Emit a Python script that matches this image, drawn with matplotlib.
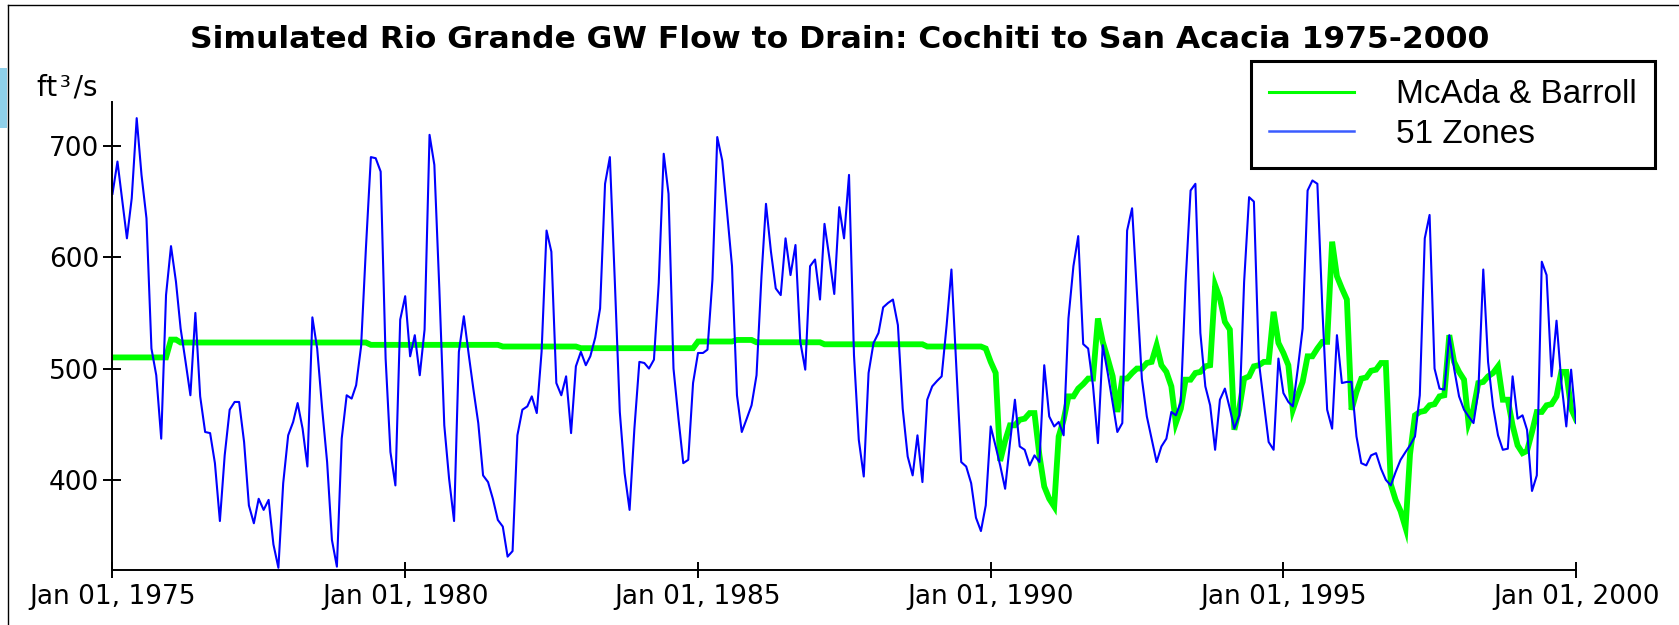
import pandas as pd
import matplotlib
matplotlib.use('Agg')
from matplotlib import pyplot as plt
from matplotlib import dates as mdates
from matplotlib.lines import Line2D
from matplotlib.patches import Rectangle

# Monthly values, Jan 1975 .. Jan 2000 (ft3/s), one row per year
zones_51 = [
    657, 686, 653, 617, 653, 725, 674, 635, 518, 494, 437, 566,   # 1975
    610, 578, 536, 506, 476, 550, 475, 443, 442, 415, 363, 422,   # 1976
    463, 470, 470, 434, 377, 361, 383, 373, 382, 342, 321, 397,   # 1977
    440, 452, 469, 446, 412, 546, 518, 464, 416, 346, 322, 437,   # 1978
    476, 473, 485, 520, 608, 690, 689, 677, 509, 425, 395, 544,   # 1979
    565, 511, 530, 494, 535, 710, 683, 572, 449, 401, 363, 515,   # 1980
    547, 512, 482, 451, 404, 398, 383, 364, 358, 331, 336, 440,   # 1981
    463, 466, 475, 460, 515, 624, 605, 487, 476, 493, 442, 502,   # 1982
    515, 503, 511, 528, 554, 666, 690, 578, 461, 406, 373, 446,   # 1983
    506, 505, 500, 508, 577, 693, 657, 500, 455, 415, 418, 487,   # 1984
    514, 514, 517, 580, 708, 687, 641, 592, 476, 443, 455, 467,   # 1985
    494, 583, 648, 605, 572, 566, 617, 584, 611, 524, 499, 592,   # 1986
    598, 562, 630, 599, 567, 645, 617, 674, 512, 436, 403, 496,   # 1987
    523, 532, 555, 559, 562, 539, 464, 421, 404, 440, 398, 472,   # 1988
    484, 489, 493, 539, 589, 500, 416, 412, 397, 366, 354, 377,   # 1989
    448, 430, 413, 392, 433, 472, 430, 427, 413, 422, 416, 503,   # 1990
    457, 448, 452, 440, 545, 592, 619, 522, 518, 485, 433, 521,   # 1991
    496, 469, 443, 451, 624, 644, 569, 491, 457, 437, 416, 430,   # 1992
    437, 461, 458, 470, 578, 660, 666, 532, 484, 467, 427, 472,   # 1993
    482, 464, 446, 458, 578, 654, 650, 506, 469, 434, 427, 509,   # 1994
    478, 470, 466, 500, 536, 660, 669, 666, 554, 463, 446, 530,   # 1995
    487, 488, 488, 439, 415, 413, 422, 424, 410, 400, 395, 407,   # 1996
    418, 425, 431, 439, 476, 617, 638, 500, 482, 481, 530, 500,   # 1997
    475, 463, 457, 451, 479, 589, 506, 466, 440, 427, 428, 493,   # 1998
    455, 458, 445, 390, 404, 596, 584, 493, 543, 488, 448, 499,   # 1999
    451,                                                          # 2000
]

mcada_barroll = [
    510, 510, 510, 510, 510, 510, 510, 510, 510, 510, 510, 510,   # 1975
    526, 526, 523.4, 523.4, 523.4, 523.4, 523.4, 523.4, 523.4, 523.4, 523.4, 523.4,
    523.4, 523.4, 523.4, 523.4, 523.4, 523.4, 523.4, 523.4, 523.4, 523.4, 523.4, 523.4,
    523.4, 523.4, 523.4, 523.4, 523.4, 523.4, 523.4, 523.4, 523.4, 523.4, 523.4, 523.4,
    523.4, 523.4, 523.4, 523.4, 523.4, 521.3, 521.3, 521.3, 521.3, 521.3, 521.3, 521.3,
    521.3, 521.3, 521.3, 521.3, 521.3, 521.3, 521.3, 521.3, 521.3, 521.3, 521.3, 521.3,
    521.3, 521.3, 521.3, 521.3, 521.3, 521.3, 521.3, 521.3, 519.8, 519.8, 519.8, 519.8,
    519.8, 519.8, 519.8, 519.8, 519.8, 519.8, 519.8, 519.8, 519.8, 519.8, 519.8, 519.8,
    518.3, 518.3, 518.3, 518.3, 518.3, 518.3, 518.3, 518.3, 518.3, 518.3, 518.3, 518.3,
    518.3, 518.3, 518.3, 518.3, 518.3, 518.3, 518.3, 518.3, 518.3, 518.3, 518.3, 518.3,
    524.3, 524.3, 524.3, 524.3, 524.3, 524.3, 524.3, 524.3, 525.7, 525.7, 525.7, 525.7,
    523.6, 523.6, 523.6, 523.6, 523.6, 523.6, 523.6, 523.6, 523.6, 523.6, 523.6, 523.6,
    523.6, 523.6, 521.8, 521.8, 521.8, 521.8, 521.8, 521.8, 521.8, 521.8, 521.8, 521.8,
    521.8, 521.8, 521.8, 521.8, 521.8, 521.8, 521.8, 521.8, 521.8, 521.8, 521.8, 519.8,
    519.8, 519.8, 519.8, 519.8, 519.8, 519.8, 519.8, 519.8, 519.8, 519.8, 519.8, 518,
    506, 496, 417, 435, 449, 449, 454, 455, 460, 460, 422, 394,   # 1990
    383, 376, 439, 454, 475, 475, 482, 486, 491, 491, 545, 524,   # 1991
    509, 493, 461, 491, 491, 496, 500, 500, 505, 506, 521, 503,   # 1992
    497, 484, 451, 464, 490, 490, 496, 497, 502, 503, 575, 563,   # 1993
    542, 535, 445, 464, 491, 493, 502, 503, 506, 506, 551, 523,   # 1994
    514, 503, 463, 476, 488, 511, 511, 518, 524, 524, 614, 583,   # 1995
    572, 562, 463, 479, 491, 492, 498, 499, 505, 505, 396, 382,   # 1996
    372, 357, 423, 458, 461, 462, 467, 468, 475, 476, 530, 506,   # 1997
    497, 490, 451, 464, 487, 488, 493, 496, 502, 472, 472, 449,   # 1998
    431, 424, 426, 443, 461, 461, 467, 468, 475, 497, 497, 464,   # 1999
    454,                                                          # 2000
]

months = pd.date_range('1975-01-01', periods=len(zones_51), freq='MS')
tick_years = [1975, 1980, 1985, 1990, 1995, 2000]
y_ticks = [400, 500, 600, 700]

fig = plt.figure(figsize=(16.79, 6.25), dpi=100)
ax = fig.add_axes([0.067, 0.088, 0.8717, 0.7488])

ax.plot(months, mcada_barroll, color='#00ff00', lw=4.2, solid_joinstyle='miter')
ax.plot(months, zones_51, color='#0000ff', lw=1.5)

ax.set_xlim(months[0], months[-1])
ax.set_ylim(319, 739.5)

ax.set_xticks([pd.Timestamp(f'{y}-01-01') for y in tick_years])
ax.xaxis.set_major_formatter(mdates.DateFormatter('%b %d, %Y'))
ax.set_yticks(y_ticks)

for s in ['top', 'right']:
    ax.spines[s].set_visible(False)
for s in ['left', 'bottom']:
    ax.spines[s].set_linewidth(1.4)
ax.tick_params(axis='both', direction='inout', width=1.4, labelsize=19, colors='black')
ax.tick_params(axis='y', length=13, pad=3)
ax.tick_params(axis='x', length=11.5, pad=4)

fig.text(37 / 1679, 1 - 88 / 625, 'ft\u200a\u00b3\u200a/s', fontsize=20, va='center', ha='left')

fig.suptitle('Simulated Rio Grande GW Flow to Drain: Cochiti to San Acacia 1975-2000',
             fontsize=22.6, fontweight='bold', x=0.5, y=1 - 40 / 625, va='center')

handles = [Line2D([], [], color='#00ff00', lw=2.2),
           Line2D([], [], color='#3a5cff', lw=1.8)]
leg = fig.legend(handles, ['McAda & Barroll', '51 Zones'],
                 loc='upper right', bbox_to_anchor=(1655 / 1679, 1 - 61 / 625),
                 prop={'family': 'Liberation Sans', 'size': 24},
                 handlelength=2.55, handletextpad=1.25, borderpad=0.55,
                 labelspacing=0.26, fancybox=False, framealpha=1,
                 borderaxespad=0)
leg.get_frame().set_edgecolor('black')
leg.get_frame().set_linewidth(2.2)

# thin outer frame (top and left) and the small blue tab at the left edge
fig.add_artist(Line2D([8 / 1679, 1], [1 - 5 / 625, 1 - 5 / 625], color='black', lw=1.0,
                      transform=fig.transFigure))
fig.add_artist(Line2D([8 / 1679, 8 / 1679], [0, 1 - 5 / 625], color='black', lw=1.0,
                      transform=fig.transFigure))
fig.add_artist(Rectangle((0, 1 - 128 / 625), 7 / 1679, 60 / 625, color='#8fd0ea',
                         transform=fig.transFigure, lw=0))

fig.savefig('out.png', dpi=100)
